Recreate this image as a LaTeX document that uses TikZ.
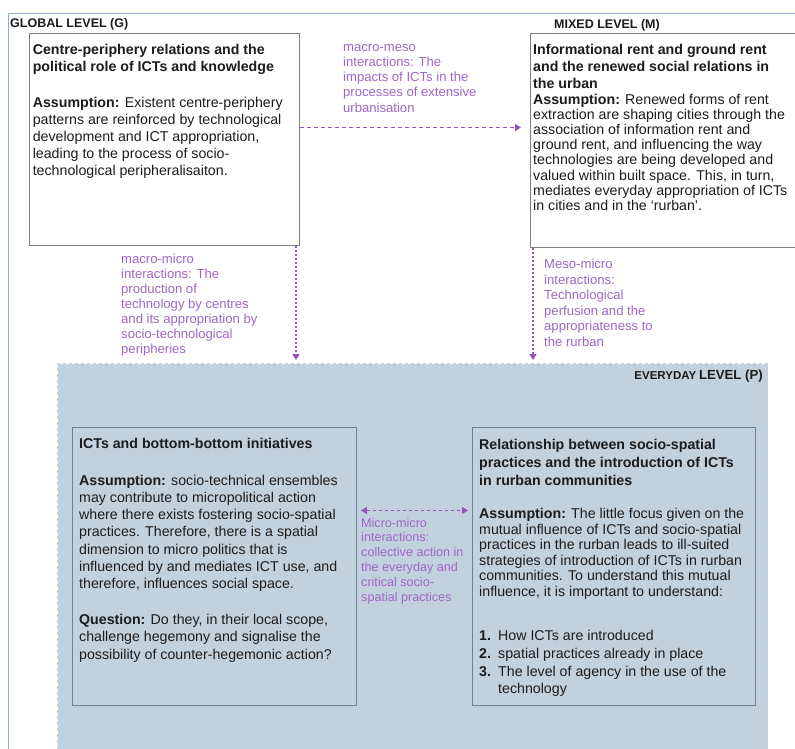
\documentclass[tikz,border=0pt]{standalone}
\usepackage{fontspec}
\setmainfont{Liberation Sans}
\usetikzlibrary{arrows.meta,calc}
\definecolor{purp}{RGB}{148,84,184}
\definecolor{purptext}{RGB}{160,102,196}
\definecolor{evfill}{RGB}{194,209,222}
\definecolor{boxline}{RGB}{120,128,138}
\definecolor{evbox}{RGB}{108,130,152}
\definecolor{frameline}{RGB}{150,175,200}
\definecolor{bodytext}{RGB}{28,28,28}
\definecolor{evdash}{RGB}{205,205,205}
\begin{document}
\begin{tikzpicture}[x=1pt,y=-1pt,
  whitebox/.style={draw=boxline,line width=1pt,fill=white,rectangle,inner sep=0pt,anchor=north west},
  evpanel/.style={draw=evdash,line width=1pt,dashed,fill=evfill,rectangle,inner sep=0pt,anchor=north west},
  bluebox/.style={draw=evbox,line width=0.9pt,fill=evfill,rectangle,inner sep=0pt,anchor=north west},
  bodytxt/.style={inner sep=0pt,anchor=north west,align=left,text=bodytext},
  purptxt/.style={inner sep=0pt,anchor=north west,align=left,text=purptext,font=\fontsize{13.1}{15.2}\selectfont},
  header/.style={inner sep=0pt,text=bodytext,font=\bfseries\fontsize{12.5}{14}\selectfont},
  tipA/.style={-{Triangle[length=6pt,width=7pt]}},
  dasharrow/.style={draw=purp,line width=1.3pt,dash pattern=on 3.5pt off 3.5pt},
  dotarrow/.style={draw=purp,line width=1.6pt,dash pattern=on 1.6pt off 2.4pt},
]
\useasboundingbox (0,0) rectangle (795,749);
\clip (0,0) rectangle (795,749);
\fill[white] (0,0) rectangle (795,749);

% outer frame
\node[draw=frameline,line width=1.4pt,rectangle,inner sep=0pt,anchor=north west,minimum width=800pt,minimum height=760pt] (frame) at (8,13) {};

% headers
\node[header,anchor=north west] (hg) at (10,18.4) {GLOBAL LEVEL (G)};
\node[header,anchor=north] (hm) at (607,19.4) {MIXED LEVEL (M)};

% everyday panel
\node[evpanel,minimum width=710pt,minimum height=400pt] (ev) at (57,363) {};
\node[inner sep=0pt,anchor=north east,text=bodytext] (he) at (763,370)
  {\bfseries{\fontsize{11.5}{13}\selectfont EVERYDAY} {\fontsize{13.2}{14}\selectfont LEVEL (P)}};

% top boxes
\node[whitebox,minimum width=270pt,minimum height=212pt] (b1) at (29,33) {};
\node[whitebox,minimum width=280pt,minimum height=214pt] (b2) at (530,33) {};

\node[bodytxt,font=\fontsize{14.2}{17}\selectfont] (t1) at (32.6,43.6)
{\textbf{Centre-periphery relations and the}\\
 \textbf{political role of ICTs and knowledge}\\[19.7pt]
 \textbf{Assumption:} Existent centre-periphery\\
 patterns are reinforced by technological\\
 development and ICT appropriation,\\
 leading to the process of socio-\\
 technological peripheralisaiton.};

\node[bodytxt,font=\fontsize{14.2}{15.2}\selectfont] (t2) at (533,43.6)
{\textbf{Informational rent and ground rent}\\[2.2pt]
 \textbf{and the renewed social relations in}\\[2.2pt]
 \textbf{the urban}\\
 \textbf{Assumption:} Renewed forms of rent\\
 extraction are shaping cities through the\\
 association of information rent and\\
 ground rent, and influencing the way\\
 technologies are being developed and\\
 valued within built space. This, in turn,\\
 mediates everyday appropriation of ICTs\\
 in cities and in the ‘rurban’.};

% bottom boxes
\node[bluebox,minimum width=284pt,minimum height=278pt] (b3) at (72,427) {};
\node[bluebox,minimum width=283pt,minimum height=278pt] (b4) at (472,427) {};

\node[bodytxt,font=\fontsize{14.2}{17.3}\selectfont] (t3) at (79,438)
{\textbf{ICTs and bottom-bottom initiatives}\\[19.3pt]
 \textbf{Assumption:} socio-technical ensembles\\
 may contribute to micropolitical action\\
 where there exists fostering socio-spatial\\
 practices. Therefore, there is a spatial\\
 dimension to micro politics that is\\
 influenced by and mediates ICT use, and\\
 therefore, influences social space.\\[18.4pt]
 \textbf{Question:} Do they, in their local scope,\\
 challenge hegemony and signalise the\\
 possibility of counter-hegemonic action?};

\node[bodytxt,font=\fontsize{14.2}{15.6}\selectfont] (t4) at (479,438.6)
{\textbf{Relationship between socio-spatial}\\[2.4pt]
 \textbf{practices and the introduction of ICTs}\\[2.4pt]
 \textbf{in rurban communities}\\[17.8pt]
 \textbf{Assumption:} The little focus given on the\\
 mutual influence of ICTs and socio-spatial\\
 practices in the rurban leads to ill-suited\\
 strategies of introduction of ICTs in rurban\\
 communities. To understand this mutual\\
 influence, it is important to understand:\\[28.7pt]
 \makebox[19pt][l]{\textbf{1.}}How ICTs are introduced\\[2.1pt]
 \makebox[19pt][l]{\textbf{2.}}spatial practices already in place\\[2.1pt]
 \makebox[19pt][l]{\textbf{3.}}The level of agency in the use of the\\[2.1pt]
 \hspace*{19pt}technology};

% interaction labels
\node[purptxt] (lmm) at (343,44)
{macro-meso\\ interactions: The\\ impacts of ICTs in the\\ processes of extensive\\ urbanisation};
\node[purptxt,font=\fontsize{13.1}{15}\selectfont] (lmi) at (121,254)
{macro-micro\\ interactions: The\\ production of\\ technology by centres\\ and its appropriation by\\ socio-technological\\ peripheries};
\node[purptxt,font=\fontsize{13.1}{15.5}\selectfont] (lme) at (544,259)
{Meso-micro\\ interactions:\\ Technological\\ perfusion and the\\ appropriateness to\\ the rurban};
\node[purptxt,font=\fontsize{12.6}{14.8}\selectfont] (lmc) at (361,517.8)
{Micro-micro\\ interactions:\\ collective action in\\ the everyday and\\ critical socio-\\ spatial practices};

% connectors
\draw[dasharrow,tipA,shorten >=9pt] ([yshift=12pt]b1.east) -- ([yshift=12pt]b1.east -| b2.west);
\draw[dotarrow,tipA,shorten >=3pt] ([xshift=-4pt]b1.south east) -- ([xshift=-4pt]b1.south east |- ev.north);
\draw[dotarrow,tipA,shorten >=3pt] ([xshift=3pt]b2.south west) -- ([xshift=3pt]b2.south west |- ev.north);
\draw[dasharrow,line width=1.1pt,dash pattern=on 3pt off 3pt,{Triangle[length=6pt,width=7pt]}-{Triangle[length=6pt,width=7pt]},shorten <=4pt,shorten >=4pt]
  ([yshift=56pt]b3.east) -- ([yshift=56pt]b3.east -| b4.west);
\end{tikzpicture}
\end{document}
